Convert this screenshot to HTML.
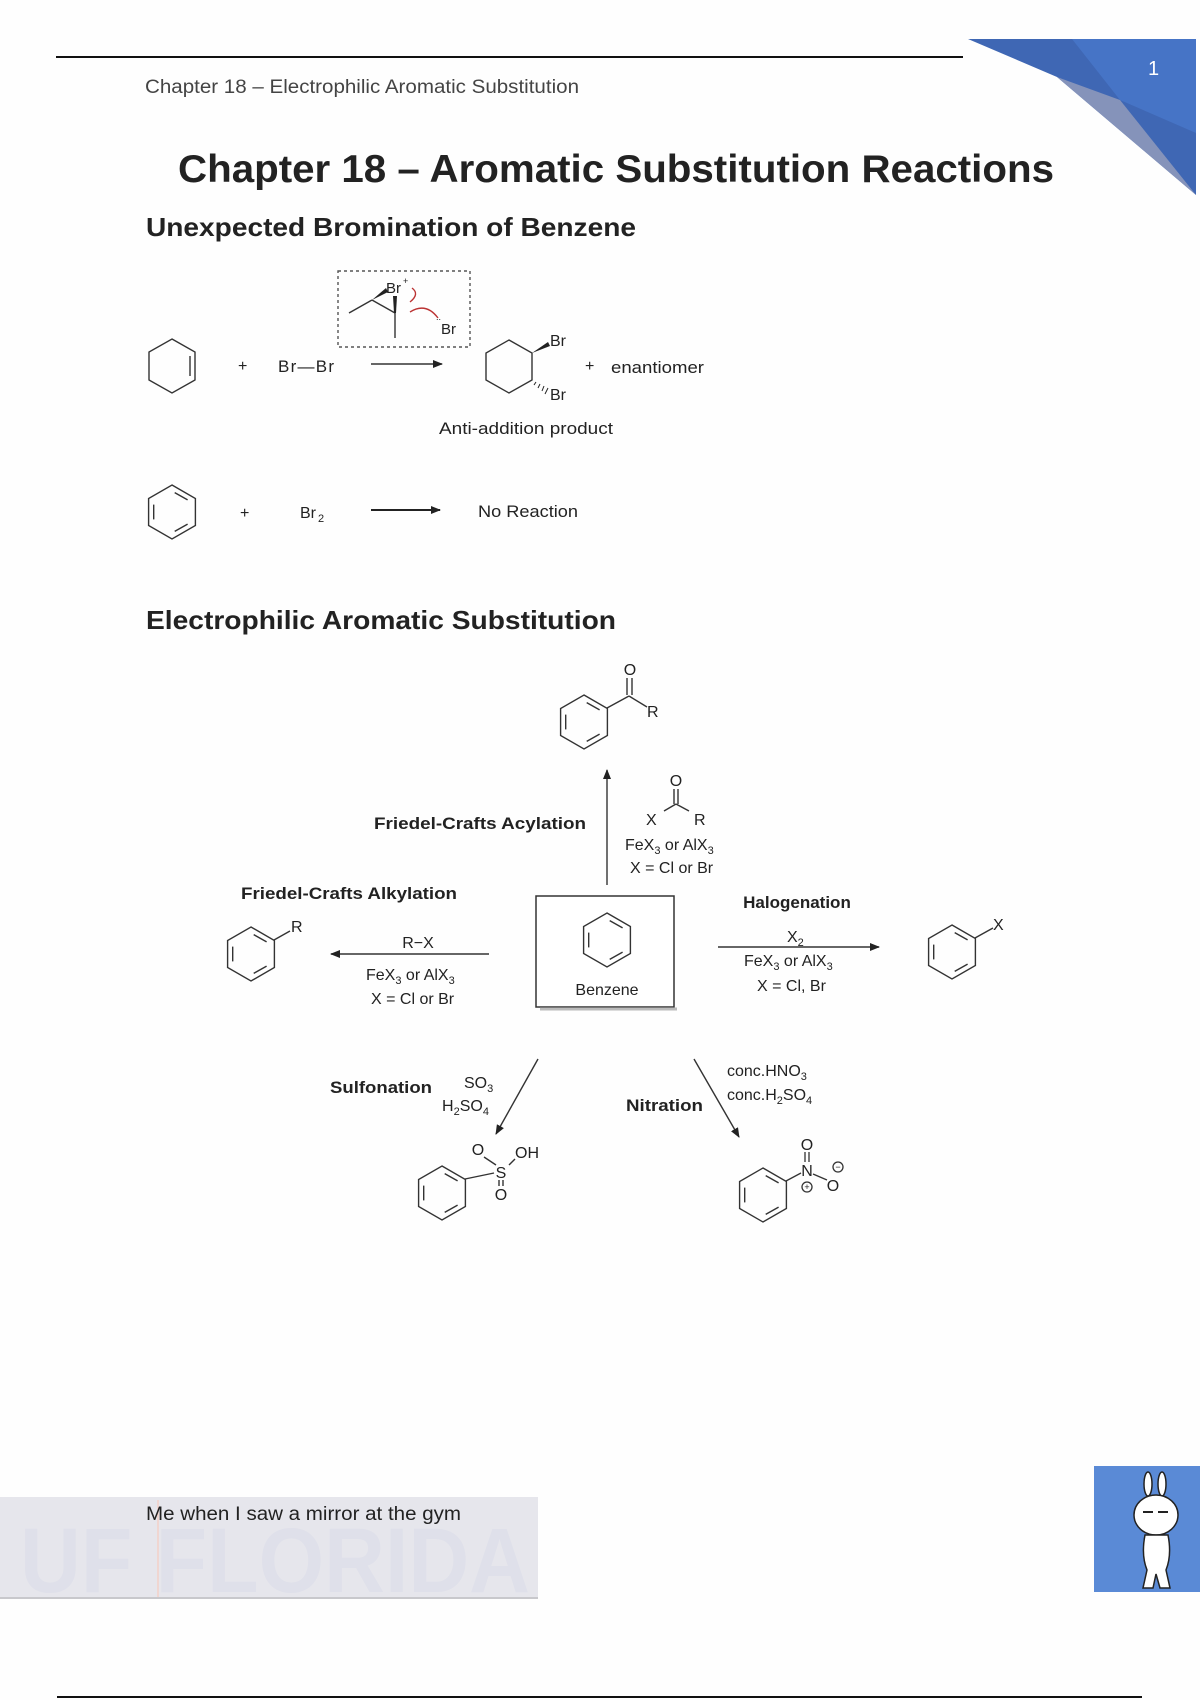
<!DOCTYPE html>
<html><head><meta charset="utf-8"><style>
html,body{margin:0;padding:0;background:#fff}
svg{display:block}
text{font-family:"Liberation Sans",sans-serif;fill:#222}
</style></head><body>
<svg width="1200" height="1700" viewBox="0 0 1200 1700" xmlns="http://www.w3.org/2000/svg">
<defs>
<g id="bz" fill="none" stroke="#333" stroke-width="1.4">
<polygon points="0,-27 23.4,-13.5 23.4,13.5 0,27 -23.4,13.5 -23.4,-13.5"/>
<line x1="2.7" y1="-19.4" x2="15.6" y2="-12.1"/>
<line x1="15.6" y1="12.1" x2="2.7" y2="19.4"/>
<line x1="-18.3" y1="7.4" x2="-18.3" y2="-7.4"/>
</g>
<marker id="ah" markerWidth="10" markerHeight="8" refX="9" refY="4" orient="auto" markerUnits="userSpaceOnUse"><path d="M0,0 L10,4 L0,8 z" fill="#222"/></marker>
</defs>
<rect width="1200" height="1700" fill="#fefefe"/>
<!-- header -->
<line x1="56" y1="57" x2="963" y2="57" stroke="#111" stroke-width="2"/>
<text x="145" y="93" font-size="19" fill="#444" style="fill:#444" textLength="434" lengthAdjust="spacingAndGlyphs">Chapter 18 – Electrophilic Aromatic Substitution</text>
<polygon points="968,39 1196,39 1196,195 1057,77" fill="#3f67b4"/>
<polygon points="1072,39 1196,39 1196,133 1120,100" fill="#4674c6"/>
<polygon points="1057,77 1120,100 1196,195" fill="#8593ba"/>
<text x="1148" y="75" font-size="20" style="fill:#fff">1</text>
<!-- titles -->
<text x="178" y="182" font-size="39" font-weight="bold" fill="#111" textLength="876" lengthAdjust="spacingAndGlyphs">Chapter 18 – Aromatic Substitution Reactions</text>
<text x="146" y="236" font-size="26" font-weight="bold" fill="#111" textLength="490" lengthAdjust="spacingAndGlyphs">Unexpected Bromination of Benzene</text>
<!-- reaction 1 -->
<g fill="none" stroke="#333" stroke-width="1.4">
<polygon points="172,339 195,352 195,380 172,393 149,380 149,352"/>
<line x1="190" y1="356" x2="190" y2="376"/>
<line x1="371" y1="364" x2="442" y2="364" marker-end="url(#ah)"/>
<polygon points="509,340 532,353 532,380 509,393 486,380 486,353"/>
<rect x="338" y="271" width="132" height="76" stroke-dasharray="3,3" stroke="#555"/>
<line x1="349" y1="313" x2="372" y2="300"/>
<line x1="372" y1="300" x2="395" y2="313"/>
<line x1="395" y1="313" x2="395" y2="338"/>
<path d="M412,288 q8,6 -2,14" stroke="#b33"/>
<path d="M438,318 q-12,-16 -28,-6" stroke="#b33"/>
</g>
<polygon points="372,300 386,288 388,292" fill="#222"/>
<polygon points="393,296 397,296 396,313 394,313" fill="#222"/>
<polygon points="532,353 548,342 550,346" fill="#222"/>
<g stroke="#222" stroke-width="1"><line x1="536" y1="382" x2="534" y2="385"/><line x1="540" y1="384" x2="538" y2="388"/><line x1="544" y1="386" x2="542" y2="391"/><line x1="548" y1="388" x2="545" y2="394"/></g>
<text x="386" y="293" font-size="15">Br</text><text x="403" y="284" font-size="9">+</text>
<text x="441" y="334" font-size="15">Br</text><text x="436" y="320" font-size="9">..</text>
<text x="238" y="371" font-size="16">+</text>
<text x="278" y="372" font-size="17" textLength="56">Br—Br</text>
<text x="550" y="346" font-size="16">Br</text>
<text x="550" y="400" font-size="16">Br</text>
<text x="585" y="371" font-size="16">+</text>
<text x="611" y="373" font-size="17" textLength="93" lengthAdjust="spacingAndGlyphs">enantiomer</text>
<text x="526" y="434" font-size="17" text-anchor="middle" textLength="174" lengthAdjust="spacingAndGlyphs">Anti-addition product</text>
<!-- reaction 2 -->
<use href="#bz" x="172" y="512"/>
<text x="240" y="518" font-size="16">+</text>
<text x="300" y="518" font-size="16">Br</text><text x="318" y="522" font-size="11">2</text>
<line x1="371" y1="510" x2="440" y2="510" stroke="#222" stroke-width="2" marker-end="url(#ah)"/>
<text x="478" y="517" font-size="17" textLength="100" lengthAdjust="spacingAndGlyphs">No Reaction</text>
<text x="146" y="629" font-size="26" font-weight="bold" fill="#111" textLength="470" lengthAdjust="spacingAndGlyphs">Electrophilic Aromatic Substitution</text>
<!-- EAS diagram -->
<rect x="536" y="896" width="138" height="111" fill="#fff" stroke="#333" stroke-width="1.5"/>
<line x1="540" y1="1009" x2="677" y2="1009" stroke="#bbb" stroke-width="3"/>
<use href="#bz" x="607" y="940"/>
<text x="607" y="995" font-size="16" text-anchor="middle">Benzene</text>
<!-- acylation -->
<use href="#bz" x="584" y="722"/>
<g fill="none" stroke="#333" stroke-width="1.4">
<line x1="607" y1="708" x2="629" y2="696"/><line x1="629" y1="696" x2="647" y2="707"/>
<line x1="627" y1="695" x2="627" y2="678"/><line x1="632" y1="695" x2="632" y2="678"/>
<line x1="607" y1="885" x2="607" y2="770" marker-end="url(#ah)"/>
<line x1="664" y1="811" x2="676" y2="804"/><line x1="676" y1="804" x2="689" y2="811"/>
<line x1="674" y1="804" x2="674" y2="789"/><line x1="678" y1="804" x2="678" y2="789"/>
</g>
<text x="630" y="675" font-size="16" text-anchor="middle">O</text>
<text x="647" y="717" font-size="16">R</text>
<text x="374" y="829" font-size="17" font-weight="bold" textLength="212" lengthAdjust="spacingAndGlyphs">Friedel-Crafts Acylation</text>
<text x="676" y="786" font-size="16" text-anchor="middle">O</text>
<text x="646" y="825" font-size="16">X</text><text x="694" y="825" font-size="16">R</text>
<text x="625" y="850" font-size="16">FeX<tspan font-size="11" dy="4">3</tspan><tspan dy="-4"> or AlX</tspan><tspan font-size="11" dy="4">3</tspan></text>
<text x="630" y="873" font-size="16">X = Cl or Br</text>
<!-- alkylation -->
<text x="241" y="899" font-size="17" font-weight="bold" textLength="216" lengthAdjust="spacingAndGlyphs">Friedel-Crafts Alkylation</text>
<use href="#bz" x="251" y="954"/>
<line x1="274" y1="940" x2="290" y2="931" stroke="#333" stroke-width="1.4"/>
<text x="291" y="932" font-size="16">R</text>
<line x1="489" y1="954" x2="331" y2="954" stroke="#333" stroke-width="1.4" marker-end="url(#ah)"/>
<text x="418" y="948" font-size="16" text-anchor="middle">R−X</text>
<text x="366" y="980" font-size="16">FeX<tspan font-size="11" dy="4">3</tspan><tspan dy="-4"> or AlX</tspan><tspan font-size="11" dy="4">3</tspan></text>
<text x="371" y="1004" font-size="16">X = Cl or Br</text>
<!-- halogenation -->
<text x="797" y="908" font-size="17" font-weight="bold" text-anchor="middle">Halogenation</text>
<line x1="718" y1="947" x2="879" y2="947" stroke="#333" stroke-width="1.4" marker-end="url(#ah)"/>
<text x="787" y="942" font-size="16">X<tspan font-size="11" dy="4">2</tspan></text>
<text x="744" y="966" font-size="16">FeX<tspan font-size="11" dy="4">3</tspan><tspan dy="-4"> or AlX</tspan><tspan font-size="11" dy="4">3</tspan></text>
<text x="757" y="991" font-size="16">X = Cl, Br</text>
<use href="#bz" x="952" y="952"/>
<line x1="975" y1="938" x2="993" y2="928" stroke="#333" stroke-width="1.4"/>
<text x="993" y="930" font-size="16">X</text>
<!-- sulfonation -->
<line x1="538" y1="1059" x2="496" y2="1134" stroke="#333" stroke-width="1.4" marker-end="url(#ah)"/>
<text x="330" y="1093" font-size="17" font-weight="bold" textLength="102" lengthAdjust="spacingAndGlyphs">Sulfonation</text>
<text x="464" y="1088" font-size="16">SO<tspan font-size="11" dy="4">3</tspan></text>
<text x="442" y="1111" font-size="16">H<tspan font-size="11" dy="4">2</tspan><tspan dy="-4">SO</tspan><tspan font-size="11" dy="4">4</tspan></text>
<use href="#bz" x="442" y="1193"/>
<g stroke="#333" stroke-width="1.4"><line x1="465" y1="1179" x2="494" y2="1173"/><line x1="484" y1="1157" x2="496" y2="1165"/><line x1="509" y1="1165" x2="515" y2="1159"/><line x1="499" y1="1180" x2="499" y2="1186"/><line x1="503" y1="1180" x2="503" y2="1186"/></g>
<text x="501" y="1178" font-size="16" text-anchor="middle">S</text>
<text x="478" y="1155" font-size="16" text-anchor="middle">O</text>
<text x="515" y="1158" font-size="16">OH</text>
<text x="501" y="1200" font-size="16" text-anchor="middle">O</text>
<!-- nitration -->
<line x1="694" y1="1059" x2="739" y2="1137" stroke="#333" stroke-width="1.4" marker-end="url(#ah)"/>
<text x="626" y="1111" font-size="17" font-weight="bold" textLength="77" lengthAdjust="spacingAndGlyphs">Nitration</text>
<text x="727" y="1076" font-size="16">conc.HNO<tspan font-size="11" dy="4">3</tspan></text>
<text x="727" y="1100" font-size="16">conc.H<tspan font-size="11" dy="4">2</tspan><tspan dy="-4">SO</tspan><tspan font-size="11" dy="4">4</tspan></text>
<use href="#bz" x="763" y="1195"/>
<g stroke="#333" stroke-width="1.3" fill="none"><line x1="786" y1="1181" x2="801" y2="1173"/><line x1="805" y1="1152" x2="805" y2="1162"/><line x1="809" y1="1152" x2="809" y2="1162"/><line x1="813" y1="1174" x2="827" y2="1180"/><circle cx="838" cy="1167" r="5"/><circle cx="807" cy="1187" r="5"/></g>
<text x="807" y="1176" font-size="16" text-anchor="middle">N</text>
<text x="807" y="1150" font-size="16" text-anchor="middle">O</text>
<text x="833" y="1191" font-size="16" text-anchor="middle">O</text>
<text x="838" y="1170" font-size="9" text-anchor="middle">−</text>
<text x="807" y="1190" font-size="9" text-anchor="middle">+</text>
<!-- bottom -->
<rect x="0" y="1497" width="538" height="102" fill="#e6e6ec"/>
<text x="20" y="1592" font-size="92" font-weight="bold" style="fill:#dfe0ea" textLength="510" lengthAdjust="spacingAndGlyphs">UF FLORIDA</text>
<line x1="158" y1="1500" x2="158" y2="1597" stroke="#f3d0c8" stroke-width="1.5"/>
<line x1="0" y1="1598" x2="538" y2="1598" stroke="#c8c8cc" stroke-width="2"/>
<text x="146" y="1520" font-size="19" fill="#222" textLength="315" lengthAdjust="spacingAndGlyphs">Me when I saw a mirror at the gym</text>
<rect x="1094" y="1466" width="106" height="126" fill="#5a8ad6"/>
<g fill="#fff" stroke="#222" stroke-width="1.5">
<ellipse cx="1148" cy="1484" rx="4" ry="12"/><ellipse cx="1162" cy="1484" rx="4" ry="12"/>
<ellipse cx="1156" cy="1515" rx="22" ry="20"/>
<path d="M1145,1535 q-4,20 2,35 l-4,18 h10 l3,-14 l4,14 h10 l-4,-18 q6,-15 2,-35 z"/>
</g>
<line x1="1143" y1="1512" x2="1153" y2="1512" stroke="#222" stroke-width="2"/><line x1="1158" y1="1512" x2="1168" y2="1512" stroke="#222" stroke-width="2"/>
<line x1="57" y1="1697" x2="1142" y2="1697" stroke="#111" stroke-width="2"/>
</svg>
</body></html>
